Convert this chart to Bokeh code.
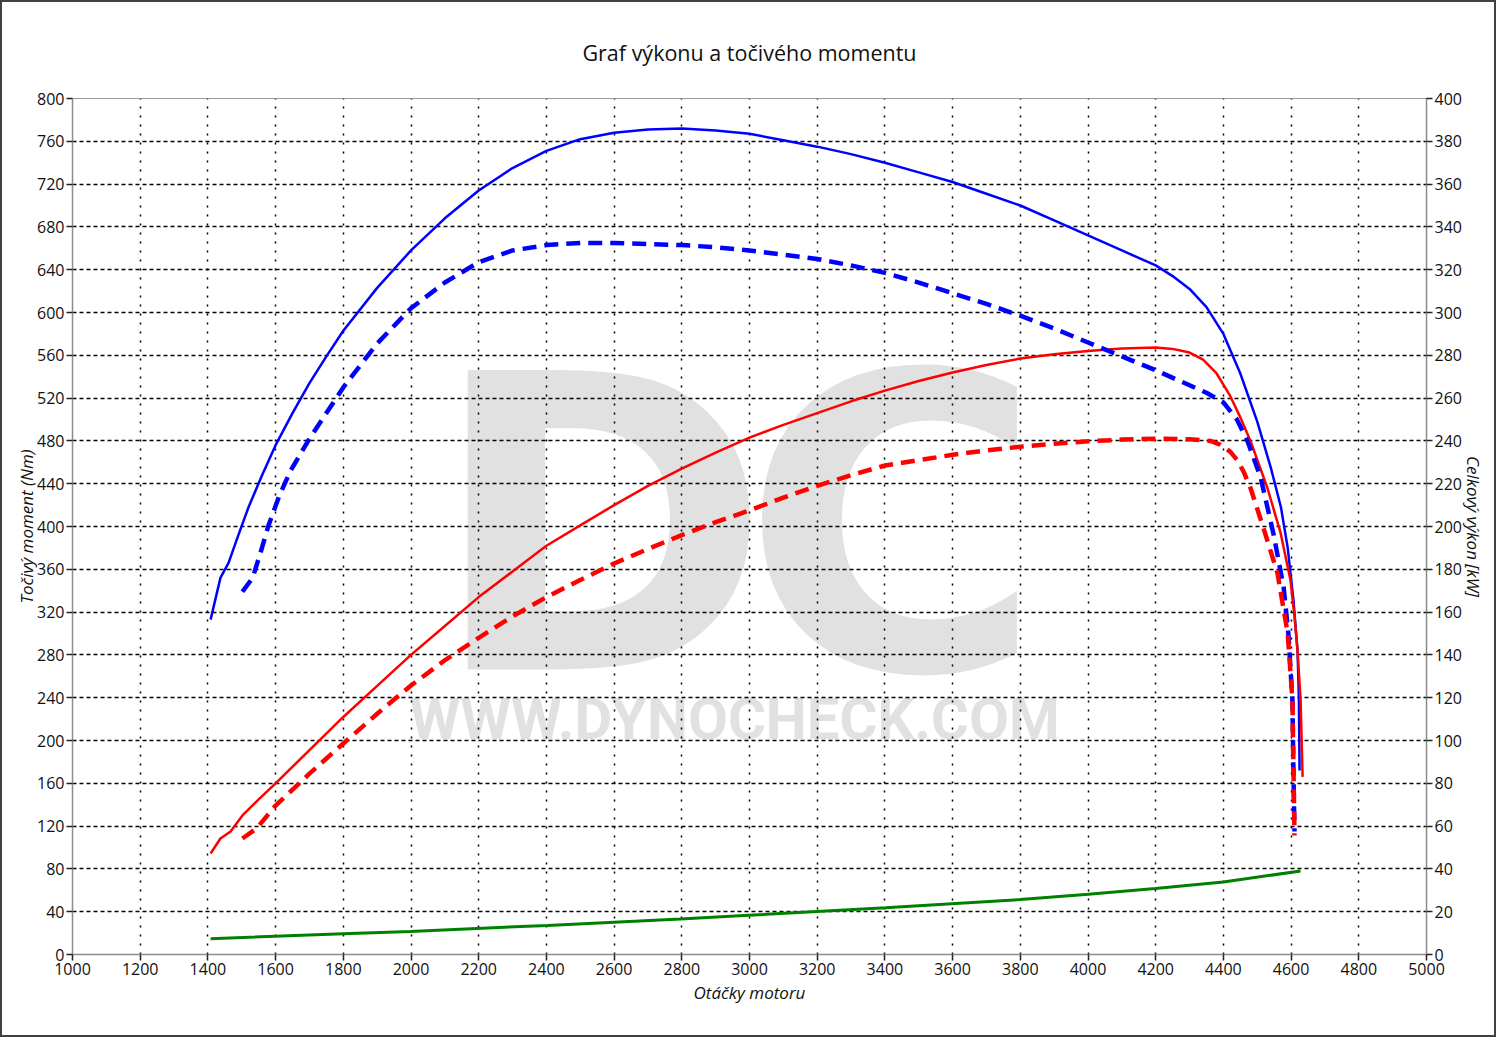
from bokeh.plotting import figure
from bokeh.models import Range1d, LinearAxis, SingleIntervalTicker, Title
from bokeh.core.properties import value
from bokeh.embed import file_html
from bokeh.resources import INLINE

# ---- data ----
# Torque, tuned (solid blue), Nm
tq_tuned_rpm = [1408, 1437, 1461, 1490, 1520, 1560, 1600, 1650, 1700, 1750, 1800, 1900, 2000,
                2100, 2200, 2300, 2400, 2500, 2600, 2700, 2800, 2900, 3000, 3100, 3200, 3300,
                3400, 3500, 3600, 3700, 3800, 3900, 4000, 4100, 4200, 4250, 4300, 4350, 4400,
                4450, 4500, 4540, 4570, 4590, 4607, 4619, 4623, 4625]
tq_tuned = [313, 352, 366, 392, 418, 448, 476, 506, 534, 559, 583, 623, 658,
            688, 714, 735, 751, 762, 768, 771, 772, 770, 767, 761, 755, 748,
            740, 731, 722, 711, 700, 686, 672, 658, 644, 634, 622, 605, 580,
            543, 498, 455, 418, 380, 331, 284, 240, 172]

# Torque, stock (dashed blue), Nm
tq_stock_rpm = [1502, 1532, 1555, 1579, 1610, 1644, 1700, 1750, 1800, 1900, 2000, 2100, 2200,
                2300, 2400, 2500, 2600, 2700, 2800, 2900, 3000, 3100, 3200, 3300, 3400, 3500,
                3600, 3700, 3800, 3900, 4000, 4100, 4200, 4300, 4350, 4400, 4440, 4471, 4510,
                4548, 4578, 4592, 4604, 4607, 4610]
tq_stock = [339, 352, 375, 401, 428, 452, 482, 506, 530, 571, 604, 628, 647,
            658, 663, 665, 665, 664, 663, 661, 658, 654, 650, 644, 637, 628,
            618, 608, 597, 585, 572, 559, 546, 532, 525, 516, 500, 480, 446,
            393, 343, 300, 237, 169, 115]

# Power, tuned (solid red), kW
pw_tuned_rpm = [1408, 1437, 1467, 1502, 1550, 1600, 1700, 1800, 1900, 2000, 2100, 2200, 2300,
                2400, 2500, 2600, 2700, 2800, 2900, 3000, 3100, 3200, 3300, 3400, 3500, 3600,
                3700, 3800, 3900, 4000, 4100, 4200, 4250, 4300, 4340, 4380, 4420, 4450, 4480,
                4530, 4569, 4598, 4610, 4619, 4628, 4634]
pw_tuned = [47.2, 54.2, 57.5, 65.0, 72.5, 80.0, 95.5, 111.0, 125.5, 140.0, 153.5, 167.0, 179.0,
            191.0, 200.5, 210.0, 219.0, 227.0, 234.5, 241.5, 247.5, 253.0, 258.5, 263.5, 268.0, 272.0,
            275.5, 278.5, 280.5, 282.0, 283.2, 283.6, 283.0, 281.3, 278.0, 271.5, 261.0, 251.0, 240.0,
            218.0, 197.0, 175.0, 158.0, 142.0, 119.0, 83.0]

# Power, stock (dashed red), kW
pw_stock_rpm = [1502, 1544, 1600, 1700, 1800, 1900, 2000, 2100, 2200, 2300, 2400, 2500, 2600,
                2700, 2800, 2900, 3000, 3100, 3200, 3300, 3400, 3500, 3600, 3700, 3800, 3900,
                4000, 4100, 4200, 4300, 4362, 4390, 4420, 4441, 4460, 4480, 4518, 4560, 4590,
                4604, 4610]
pw_stock = [54.2, 58.9, 69.6, 84.5, 98.6, 112.5, 125.7, 137.5, 148.0, 158.0, 167.0, 175.0, 182.7,
            189.5, 196.0, 202.0, 207.5, 213.5, 219.0, 224.0, 228.5, 231.0, 233.5, 235.5, 237.3, 238.7,
            239.8, 240.6, 241.0, 240.8, 240.0, 238.3, 235.0, 231.0, 225.5, 218.0, 199.5, 178.0, 150.0,
            118.7, 55.6]

# Loss power (green), kW
loss_rpm = [1408, 1800, 1998, 2403, 2796, 2997, 3402, 3800, 4001, 4199, 4400, 4628]
loss_pw = [7.4, 9.7, 10.8, 13.6, 16.6, 18.3, 21.8, 25.7, 28.2, 30.8, 33.9, 39.0]

title_text = "Graf výkonu a točivého momentu"
x_label = "Otáčky motoru"
y_label = "Točivý moment (Nm)"
y2_label = "Celkový výkon [kW]"
watermark_letters = ["D", "C"]
watermark_small = "WWW.DYNOCHECK.COM"

FONT = "Open Sans"

p = figure(width=1496, height=1037, x_range=Range1d(1000, 5000), y_range=Range1d(0, 800),
           output_backend="svg", toolbar_location=None,
           min_border_left=70, min_border_right=72, min_border_top=96, min_border_bottom=85,
           background_fill_color="white", border_fill_color="white")
p.styles = {"border": "2px solid #404040"}
p.extra_y_ranges = {"power": Range1d(0, 400)}

# title: a white spacer next to the frame, then the real title above it
p.title.text = ""
p.add_layout(Title(text=".", text_font_size="12px", text_color="white", standoff=16), "above")
p.add_layout(Title(text=title_text, align="center", text_font=FONT, text_font_size="21.5px",
                   text_font_style="normal", text_color="#111111", standoff=10), "above")

p.outline_line_color = "#9a9a9a"
p.outline_line_width = 1

# axes
p.xaxis.ticker = SingleIntervalTicker(interval=200)
p.yaxis.ticker = SingleIntervalTicker(interval=40)
p.xaxis.axis_label = x_label
p.yaxis.axis_label = y_label

ax2 = LinearAxis(y_range_name="power", ticker=SingleIntervalTicker(interval=20), axis_label=y2_label)
p.add_layout(ax2, "right")

for ax in [p.xaxis[0], p.yaxis[0], ax2]:
    ax.axis_line_color = "#8c8c8c"
    ax.axis_line_width = 1.5
    ax.major_tick_line_color = "#222222"
    ax.major_tick_line_width = 1.5
    ax.major_tick_out = 6
    ax.major_tick_in = 0
    ax.minor_tick_line_color = None
    ax.major_label_text_font = FONT
    ax.major_label_text_font_size = "16px"
    ax.major_label_text_color = "#111111"
    ax.major_label_standoff = 2
    ax.axis_label_text_font = FONT
    ax.axis_label_text_font_size = "17px"
    ax.axis_label_text_font_style = "italic"
    ax.axis_label_text_color = "#111111"
p.xaxis[0].axis_label_standoff = 3
p.yaxis[0].axis_label_standoff = -4
ax2.axis_label_standoff = -3

# grid
p.xgrid.grid_line_color = "black"
p.xgrid.grid_line_width = 1.5
p.xgrid.grid_line_dash = "2 7"
p.ygrid.grid_line_color = "black"
p.ygrid.grid_line_width = 1.5
p.ygrid.grid_line_dash = "4 3"

# watermark (below grid)
p.text(x=[2560, 3422], y=[399, 399], text=watermark_letters, text_font=value("DejaVu Sans"),
       text_font_size="411px", text_font_style="bold", text_color="#e1e1e1", text_align="center",
       text_baseline="middle", level="image")
p.text(x=[2956], y=[220], text=[watermark_small], text_font=value("Roboto"), text_font_size="58px",
       text_font_style="bold", text_color="#e1e1e1", text_align="center",
       text_baseline="middle", level="image")

# curves
p.line(loss_rpm, loss_pw, y_range_name="power", line_color="#008000", line_width=3)
p.line(tq_tuned_rpm, tq_tuned, line_color="#0000ff", line_width=2.5)
p.line(pw_tuned_rpm, pw_tuned, y_range_name="power", line_color="#ff0000", line_width=2.5)
p.line(tq_stock_rpm, tq_stock, line_color="#0000ff", line_width=4.5, line_dash="14 8")
p.line(pw_stock_rpm, pw_stock, y_range_name="power", line_color="#ff0000", line_width=4.5, line_dash="14 8")

open("out.html", "w").write(file_html(p, INLINE))
